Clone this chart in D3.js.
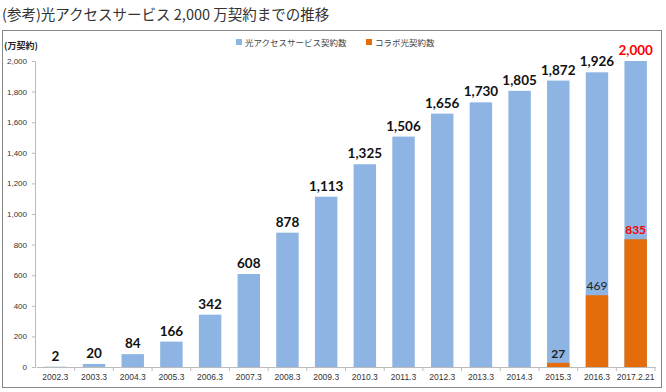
<!DOCTYPE html>
<html><head><meta charset="utf-8">
<script src="https://cdn.jsdelivr.net/npm/d3@7"></script>
<style>body{margin:0;background:#fff}svg{display:block;font-family:"Noto Sans CJK JP",sans-serif}</style>
</head><body><svg id="c" width="666" height="392"></svg>
<script>
const categories = ["2002.3","2003.3","2004.3","2005.3","2006.3","2007.3","2008.3","2009.3","2010.3","2011.3","2012.3","2013.3","2014.3","2015.3","2016.3","2017.2.21"];
const hikariValues = [2,20,84,166,342,608,878,1113,1325,1506,1656,1730,1805,1872,1926,2000];
const collaboValues = [null,null,null,null,null,null,null,null,null,null,null,null,null,27,469,835];
const yTicks = [0,200,400,600,800,1000,1200,1400,1600,1800,2000];
const seriesNames = ["光アクセスサービス契約数","コラボ光契約数"];

const svg = d3.select("#c");
const blue = "#8DB4E2", orange = "#E46C0A";

svg.append("text").attr("x",2).attr("y",20).attr("font-size",14.5).attr("fill","#333")
  .text("(参考)光アクセスサービス 2,000 万契約までの推移");
svg.append("rect").attr("x",2.5).attr("y",30.5).attr("width",659).attr("height",357)
  .attr("fill","none").attr("stroke","#888").attr("stroke-width",1);
svg.append("text").attr("x",4).attr("y",49).attr("font-size",9).attr("font-weight","bold").attr("fill","#222").text("(万契約)");

const x = d3.scaleBand().domain(categories).range([36,655]).paddingInner(0.42).paddingOuter(0.21);
const y = d3.scaleLinear().domain([0,2000]).range([367,61]);

const yAxis = svg.append("g").attr("transform","translate(35,0)")
  .call(d3.axisLeft(y).tickValues(yTicks).tickFormat(d3.format(",")).tickSize(3).tickPadding(5));
yAxis.selectAll("path,line").attr("stroke","#bbb");
yAxis.selectAll("text").attr("font-size",8).attr("fill","#333").attr("font-family","Liberation Sans Narrow, Liberation Sans, sans-serif");

const xb = d3.scaleBand().domain(categories).range([36,655]);
const xAxis = svg.append("g").attr("transform","translate(0,367)")
  .call(d3.axisBottom(xb).tickSize(0).tickPadding(7));
xAxis.select("path").attr("stroke","#bbb");
xAxis.selectAll("text").attr("font-size",8.5).attr("fill","#333").attr("font-family","Liberation Sans, sans-serif");
svg.append("g").selectAll("line").data(categories).join("line")
  .attr("x1",d=>xb(d)+xb.bandwidth()).attr("x2",d=>xb(d)+xb.bandwidth())
  .attr("y1",367).attr("y2",371).attr("stroke","#bbb");

svg.append("g").selectAll("rect").data(hikariValues).join("rect")
  .attr("x",(d,i)=>x(categories[i])).attr("width",x.bandwidth())
  .attr("y",d=>y(d)).attr("height",d=>y(0)-y(d)).attr("fill",blue);

const coll = collaboValues.map((v,i)=>({v,c:categories[i]})).filter(d=>d.v!=null);
svg.append("g").selectAll("rect").data(coll).join("rect")
  .attr("x",d=>x(d.c)).attr("width",x.bandwidth())
  .attr("y",d=>y(d.v)).attr("height",d=>y(0)-y(d.v)).attr("fill",orange);

svg.append("g").selectAll("text").data(hikariValues).join("text")
  .attr("x",(d,i)=>x(categories[i])+x.bandwidth()/2).attr("y",d=>y(d)-6)
  .attr("text-anchor","middle").attr("font-size",13.5).attr("font-weight","bold")
  .attr("font-family","Lato, sans-serif")
  .attr("fill",(d,i)=>i===categories.length-1?"#FF0000":"#111")
  .text(d=>d3.format(",")(d));

svg.append("g").selectAll("text").data(coll).join("text")
  .attr("x",d=>x(d.c)+x.bandwidth()/2).attr("y",d=>y(d.v)-5)
  .attr("text-anchor","middle").attr("font-size",12)
  .attr("font-family","Lato, sans-serif")
  .attr("font-weight",(d,i)=>i===coll.length-1||i===0?"bold":"normal")
  .attr("fill",(d,i)=>i===coll.length-1?"#FF0000":"#222")
  .text(d=>d3.format(",")(d.v));

const lg = svg.append("g").attr("font-size",8.5).attr("fill","#444");
[[blue,236,seriesNames[0]],[orange,366,seriesNames[1]]].forEach(([c,lx,t])=>{
  lg.append("rect").attr("x",lx).attr("y",39).attr("width",6).attr("height",6).attr("fill",c);
  lg.append("text").attr("x",lx+9).attr("y",45.5).attr("fill","#444").text(t);
});
</script></body></html>
